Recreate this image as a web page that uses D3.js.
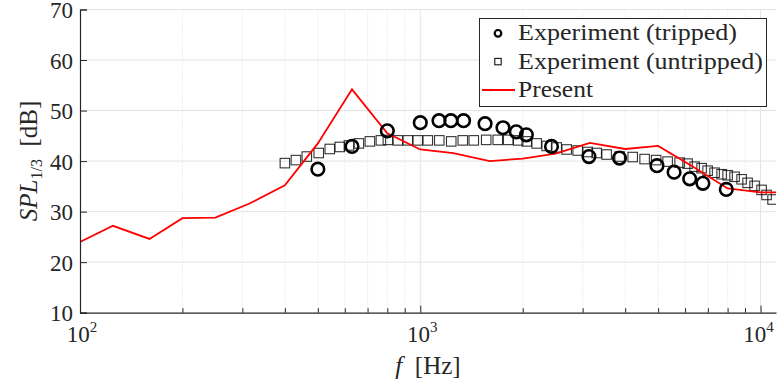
<!DOCTYPE html>
<html>
<head>
<meta charset="utf-8">
<script src="https://cdn.jsdelivr.net/npm/d3@7"></script>
<style>
  body { margin: 0; background: #fff; }
  svg text { font-family: "Liberation Serif", "Times New Roman", serif; fill: #262626; }
</style>
</head>
<body>
<div id="chart"></div>
<script>
// Present (simulation), 1/3 octave bands
const presentFreq = [100, 125, 160, 200, 250, 315, 400, 500, 630, 800, 1000, 1250, 1600, 2000, 2500, 3150, 4000, 5000, 6300, 8000, 10000, 12500];
const presentSpl = [24.0, 27.2, 24.6, 28.7, 28.8, 31.6, 35.2, 43.5, 54.2, 45.5, 42.3, 41.6, 40.0, 40.5, 41.5, 43.6, 42.4, 43.0, 39.0, 34.6, 33.8, 33.8];

// Experiment (tripped)
const trippedFreq = [500, 630, 800, 1000, 1135, 1230, 1340, 1550, 1750, 1915, 2050, 2430, 3130, 3850, 4960, 5570, 6190, 6770, 7930];
const trippedSpl = [38.4, 42.9, 46.0, 47.6, 48.0, 48.0, 48.0, 47.4, 46.6, 45.8, 45.2, 42.9, 40.9, 40.6, 39.1, 37.8, 36.5, 35.6, 34.4];

// Experiment (untripped)
const untrippedFreq = [400, 431, 464, 503, 542, 580, 617, 660, 711, 766, 803, 859, 919, 983, 1052, 1137, 1233, 1333, 1436, 1562,
  1689, 1813, 1940, 2055, 2198, 2352, 2517, 2693, 2901, 3105, 3299, 3529, 3854, 4209, 4563, 4933, 5332, 5782, 6103, 6401,
  6710, 6989, 7326, 7683, 8000, 8387, 8795, 9159, 9603, 10069, 10414, 10845];
const untrippedSpl = [39.6, 40.2, 40.9, 41.6, 42.4, 42.8, 43.1, 43.5, 43.9, 44.1, 44.2, 44.1, 44.1, 44.1, 44.1, 44.1, 43.9, 44.1, 44.1, 44.2,
  44.2, 44.2, 44.1, 43.9, 43.5, 43.0, 42.7, 42.3, 42.1, 41.8, 41.6, 41.3, 40.9, 40.8, 40.4, 40.2, 39.9, 39.7, 39.5, 38.9,
  38.6, 38.1, 37.7, 37.4, 37.2, 36.9, 36.4, 35.7, 35.1, 34.3, 33.3, 32.4];

const yTicks = [10, 20, 30, 40, 50, 60, 70];
const xMajor = [100, 1000, 10000];
const xMinor = [200, 300, 400, 500, 600, 700, 800, 900, 2000, 3000, 4000, 5000, 6000, 7000, 8000, 9000];
const legendLabels = ['Experiment (tripped)', 'Experiment (untripped)', 'Present'];

const width = 781;
const height = 389;
const margin = { top: 9.5, right: 5, bottom: 76.3, left: 80 };
const axisColor = '#262626';
const serif = '"Liberation Serif", "Times New Roman", serif';

const svg = d3.select('#chart')
  .append('svg')
  .attr('width', width)
  .attr('height', height)
  .attr('font-family', serif);

const xScale = d3.scaleLog()
  .domain([100, 11100])
  .range([margin.left, width - margin.right]);

const yScale = d3.scaleLinear()
  .domain([10, 70])
  .range([height - margin.bottom, margin.top]);

const plotBottom = height - margin.bottom;
const plotRight = width - margin.right;

svg.append('clipPath').attr('id', 'plot-clip')
  .append('rect')
  .attr('x', margin.left)
  .attr('y', margin.top)
  .attr('width', plotRight - margin.left)
  .attr('height', plotBottom - margin.top);

// grid
const grid = svg.append('g').attr('class', 'grid');
grid.selectAll('line.minor')
  .data(xMinor)
  .join('line')
  .attr('x1', d => xScale(d)).attr('x2', d => xScale(d))
  .attr('y1', margin.top).attr('y2', plotBottom)
  .attr('stroke', '#d4d4d4')
  .attr('stroke-width', 0.8)
  .attr('stroke-dasharray', '1,2');

grid.selectAll('line.xmajor')
  .data(xMajor.slice(1))
  .join('line')
  .attr('x1', d => xScale(d)).attr('x2', d => xScale(d))
  .attr('y1', margin.top).attr('y2', plotBottom)
  .attr('stroke', '#e3e3e3')
  .attr('stroke-width', 1);

grid.selectAll('line.ymajor')
  .data(yTicks.slice(1))
  .join('line')
  .attr('x1', margin.left).attr('x2', plotRight)
  .attr('y1', d => yScale(d)).attr('y2', d => yScale(d))
  .attr('stroke', '#e3e3e3')
  .attr('stroke-width', 1);

// data
const plot = svg.append('g').attr('clip-path', 'url(#plot-clip)');

const untripped = untrippedFreq.map((f, i) => ({ f, spl: untrippedSpl[i] }));
const tripped = trippedFreq.map((f, i) => ({ f, spl: trippedSpl[i] }));
const present = presentFreq.map((f, i) => ({ f, spl: presentSpl[i] }));

const sq = 9.5;
plot.append('g')
  .selectAll('rect')
  .data(untripped)
  .join('rect')
  .attr('x', d => xScale(d.f) - sq / 2)
  .attr('y', d => yScale(d.spl) - sq / 2)
  .attr('width', sq)
  .attr('height', sq)
  .attr('fill', 'none')
  .attr('stroke', '#111')
  .attr('stroke-opacity', 0.85)
  .attr('stroke-width', 1.1);

plot.append('path')
  .datum(present)
  .attr('fill', 'none')
  .attr('stroke', '#ff0000')
  .attr('stroke-width', 1.8)
  .attr('d', d3.line().x(d => xScale(d.f)).y(d => yScale(d.spl)));

plot.append('g')
  .selectAll('circle')
  .data(tripped)
  .join('circle')
  .attr('cx', d => xScale(d.f))
  .attr('cy', d => yScale(d.spl))
  .attr('r', 6.3)
  .attr('fill', 'none')
  .attr('stroke', '#000')
  .attr('stroke-width', 2.6);

// axes
const xAxis = d3.axisBottom(xScale)
  .tickValues(xMajor.concat(xMinor))
  .tickSize(0)
  .tickFormat('');
const gx = svg.append('g')
  .attr('transform', `translate(0,${plotBottom})`)
  .call(xAxis)
  .attr('font-family', serif);
gx.select('.domain').attr('stroke', axisColor).attr('stroke-width', 1.2);
gx.selectAll('.tick line')
  .attr('stroke', axisColor)
  .attr('y2', d => xMajor.includes(d) ? -7 : -4.5);

const yAxis = d3.axisLeft(yScale)
  .tickValues(yTicks)
  .tickSize(-7)
  .tickPadding(7)
  .tickFormat(d3.format('d'));
const gy = svg.append('g')
  .attr('transform', `translate(${margin.left},0)`)
  .call(yAxis)
  .attr('font-family', serif);
gy.select('.domain').attr('stroke', axisColor).attr('stroke-width', 1.2);
gy.selectAll('.tick line').attr('stroke', axisColor);
gy.selectAll('.tick text')
  .attr('font-family', serif)
  .attr('font-size', 23)
  .attr('dy', '0.36em')
  .attr('fill', axisColor);

// x tick labels as powers of ten
const xLabels = svg.append('g');
xMajor.forEach(v => {
  const t = xLabels.append('text')
    .attr('x', xScale(v) + (v === 10000 ? -2 : 2))
    .attr('y', 341.5)
    .attr('text-anchor', 'middle')
    .attr('font-size', 23);
  t.append('tspan').text('10');
  t.append('tspan')
    .attr('font-size', 15)
    .attr('dy', -10)
    .text(Math.round(Math.log10(v)));
});

// axis titles
const xt = svg.append('text')
  .attr('x', 428)
  .attr('y', 374)
  .attr('text-anchor', 'middle')
  .attr('font-size', 25);
xt.append('tspan').attr('font-style', 'italic').text('f');
xt.append('tspan').text('\u2002[Hz]');

const yt = svg.append('text')
  .attr('transform', 'translate(37,161) rotate(-90)')
  .attr('text-anchor', 'middle')
  .attr('font-size', 25);
yt.append('tspan').attr('font-style', 'italic').text('SPL');
yt.append('tspan').attr('font-size', 16).attr('dy', 5).text('1/3');
yt.append('tspan').attr('dy', -5).text('\u2002[dB]');

// legend
const legend = svg.append('g');
legend.append('rect')
  .attr('x', 479.5)
  .attr('y', 18.5)
  .attr('width', 287)
  .attr('height', 88)
  .attr('fill', '#fff')
  .attr('stroke', axisColor)
  .attr('stroke-width', 1);

const rowY = [33.3, 61.6, 90];
const textLens = [219, 245, 75];
legendLabels.forEach((label, i) => {
  legend.append('text')
    .attr('x', 518)
    .attr('y', rowY[i] + 7)
    .attr('font-size', 23)
    .attr('textLength', textLens[i])
    .attr('lengthAdjust', 'spacingAndGlyphs')
    .text(label);
});
legend.append('circle')
  .attr('cx', 498).attr('cy', rowY[0])
  .attr('r', 3.3)
  .attr('fill', 'none')
  .attr('stroke', '#000')
  .attr('stroke-width', 2.2);
legend.append('rect')
  .attr('x', 498 - 3.2).attr('y', rowY[1] - 3.2)
  .attr('width', 6.4).attr('height', 6.4)
  .attr('fill', 'none')
  .attr('stroke', '#111')
  .attr('stroke-width', 1.1);
legend.append('line')
  .attr('x1', 482).attr('x2', 515)
  .attr('y1', rowY[2]).attr('y2', rowY[2])
  .attr('stroke', '#ff0000')
  .attr('stroke-width', 1.8);
</script>
</body>
</html>
